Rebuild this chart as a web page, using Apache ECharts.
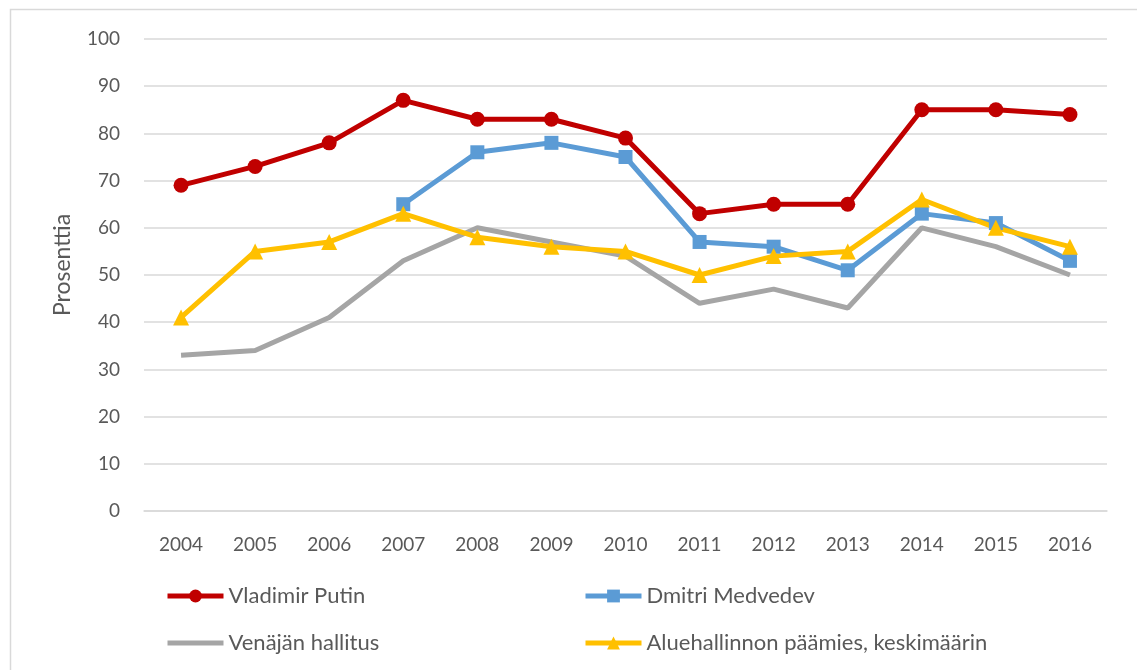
<!DOCTYPE html>
<html>
<head>
<meta charset="utf-8">
<script src="https://cdn.jsdelivr.net/npm/echarts@6/dist/echarts.min.js"></script>
<style>
  html, body { margin: 0; padding: 0; background: #fff; }
  #chart { width: 1137px; height: 670px; }
</style>
</head>
<body>
<div id="chart"></div>
<script>
// vuodet ja sarjat
var years = ['2004', '2005', '2006', '2007', '2008', '2009', '2010', '2011', '2012', '2013', '2014', '2015', '2016']
var putin = [69, 73, 78, 87, 83, 83, 79, 63, 65, 65, 85, 85, 84]
var medvedev = [null, null, null, 65, 76, 78, 75, 57, 56, 51, 63, 61, 53]
var hallitus = [33, 34, 41, 53, 60, 57, 54, 44, 47, 43, 60, 56, 50]
var alue = [41, 55, 57, 63, 58, 56, 55, 50, 54, 55, 66, 60, 56]
var yTicks = [0, 10, 20, 30, 40, 50, 60, 70, 80, 90, 100]

var font = 'Lato'
var textColor = '#595959'
var gridColor = '#d9d9d9'
var lineW = 5

function lineSeries (name, data, color, symbol, size) {
  return {
    name: name,
    type: 'line',
    data: data,
    symbol: symbol,
    symbolSize: size,
    lineStyle: { width: lineW, color: color },
    itemStyle: { color: color },
    animation: false
  }
}

var legendBase = {
  orient: 'vertical',
  top: 585,
  padding: 0,
  itemWidth: 56,
  itemHeight: 16,
  itemGap: 25,
  symbolKeepAspect: true,
  lineStyle: { width: lineW },
  textStyle: { color: textColor, fontSize: 22, fontFamily: font }
}

var chart = echarts.init(document.getElementById('chart'))
chart.setOption({
  backgroundColor: '#fff',
  textStyle: { fontFamily: font },
  graphic: [{
    type: 'rect',
    shape: { x: 10.5, y: 9.5, width: 1300, height: 900 },
    style: { fill: null, stroke: gridColor, lineWidth: 1.5 },
    silent: true
  }],
  grid: { left: 144, right: 30, top: 39, bottom: 159 },
  legend: [
    Object.assign({}, legendBase, {
      left: 165,
      data: ['Vladimir Putin', {
        name: 'Venäjän hallitus',
        icon: 'path://M0,0 L56,0 L56,5 L0,5 Z'
      }]
    }),
    Object.assign({}, legendBase, {
      left: 583,
      data: ['Dmitri Medvedev', 'Aluehallinnon päämies, keskimäärin']
    })
  ],
  xAxis: {
    type: 'category',
    data: years,
    axisLine: { lineStyle: { color: gridColor, width: 1.5 } },
    axisTick: { show: false },
    axisLabel: { color: textColor, fontSize: 19, margin: 24 }
  },
  yAxis: {
    type: 'value',
    min: yTicks[0],
    max: yTicks[yTicks.length - 1],
    interval: 10,
    name: 'Prosenttia',
    nameLocation: 'middle',
    nameGap: 70,
    nameTextStyle: { color: textColor, fontSize: 23, padding: [0, 0, 0, 20] },
    axisLine: { show: false },
    axisTick: { show: false },
    axisLabel: { color: textColor, fontSize: 19, margin: 24 },
    splitLine: { lineStyle: { color: gridColor, width: 1.5 } }
  },
  series: [
    lineSeries('Vladimir Putin', putin, '#C00000', 'circle', 15),
    lineSeries('Dmitri Medvedev', medvedev, '#5B9BD5', 'rect', 14),
    lineSeries('Venäjän hallitus', hallitus, '#A5A5A5', 'none', 0),
    lineSeries('Aluehallinnon päämies, keskimäärin', alue, '#FFC000', 'triangle', 16)
  ]
})
</script>
</body>
</html>
